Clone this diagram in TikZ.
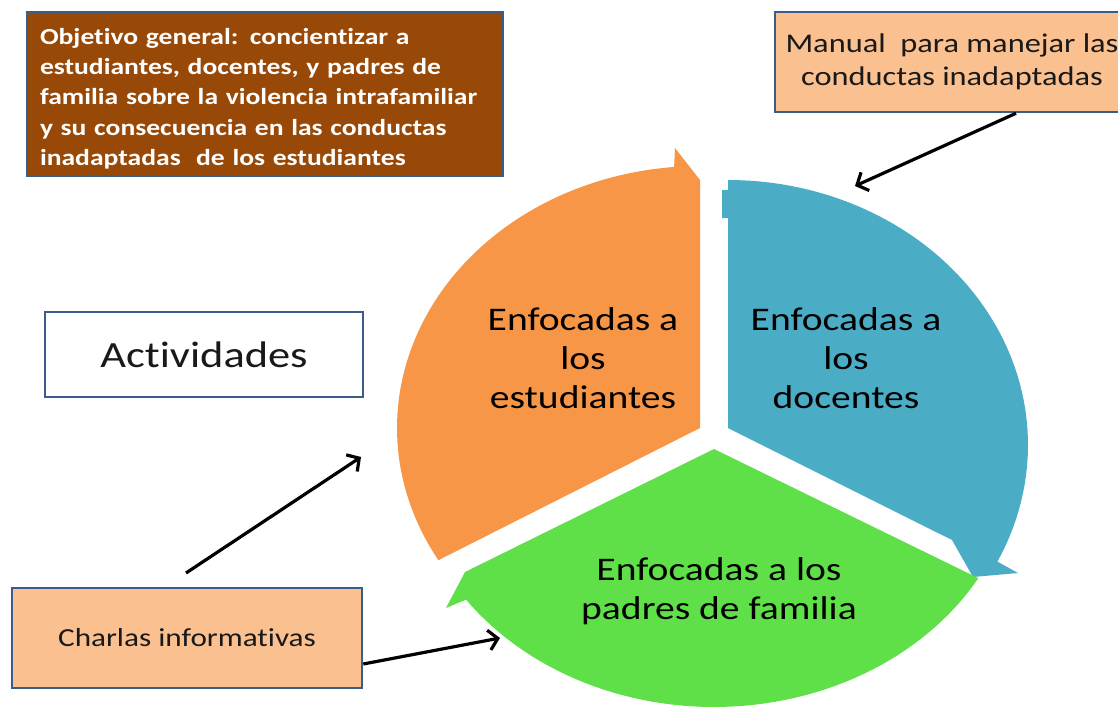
\documentclass[tikz,border=0pt]{standalone}
\usepackage{fontspec}
\setmainfont{Carlito}[FakeStretch=1.2, Ligatures={TeX,NoCommon}]
\usetikzlibrary{arrows.meta}
\definecolor{segorange}{HTML}{F79646}
\definecolor{segblue}{HTML}{4BACC6}
\definecolor{seggreen}{RGB}{95,224,72}
\definecolor{boxbrown}{HTML}{984807}
\definecolor{boxpeach}{HTML}{FAC090}
\definecolor{boxline}{HTML}{385D8A}
\definecolor{txtdark}{RGB}{25,25,25}
\begin{document}
\begin{tikzpicture}[x=1pt,y=-1pt,
  box/.style={draw=boxline, line width=2.5pt, inner sep=0pt, text=txtdark},
  segtext/.style={align=center, text=black, inner sep=0pt, font=\fontsize{33}{39}\selectfont},
  arr/.style={line width=3.2pt, -{Straight Barb[length=9pt,width=20pt]}},
]
\useasboundingbox (0,0) rectangle (1118,709);
\clip (0,0) rectangle (1118,709);
\fill[white] (0,0) rectangle (1118,709);

% segments of the cycle
\fill[segorange] plot[domain=149.7:265.1, samples=60, variable=\t] ({700+303*cos(\t)},{428+262*sin(\t)})
  -- (675,148) -- (700,180) -- (700,428) -- cycle;
\fill[segblue] (728,428) -- (728,218) -- (722,218) -- (722,190) -- (728,190)
  -- plot[domain=-90:26.1, samples=60, variable=\t] ({728+300*cos(\t)},{445+265*sin(\t)})
  -- (1018,573) -- (973,577) -- (952,540) -- cycle;
\fill[seggreen] (714,449) -- (978,578)
  -- plot[domain=29.9:144.4, samples=60, variable=\t] ({714+305*cos(\t)},{450+257*sin(\t)})
  -- (446,608) -- (465,572) -- cycle;

\node[segtext] (tE) at (583,358) {Enfocadas a\\los\\estudiantes};
\node[segtext] (tD) at (846,358) {Enfocadas a\\los\\docentes};
\node[segtext] (tP) at (719,591) {Enfocadas a los\\padres de familia};

% boxes
\node[box, fill=boxbrown, minimum width=476pt, minimum height=164pt, text width=466pt,
  align=left, text=white, font=\bfseries\fontsize{23}{30.2}\selectfont] (obj) at (265,94)
  {\rule{0pt}{25.5pt}\hspace*{8pt}Objetivo general: concientizar a\\\hspace*{8pt}estudiantes, docentes, y padres de\\\hspace*{8pt}familia sobre la violencia intrafamiliar\\\hspace*{8pt}y su consecuencia en las conductas\\\hspace*{8pt}inadaptadas~~de los estudiantes};
\node[box, fill=boxpeach, minimum width=354pt, minimum height=100pt, align=center,
  font=\fontsize{27}{33}\selectfont] (manual) at (952,62)
  {Manual~~para manejar las\\conductas inadaptadas};
\node[box, fill=white, minimum width=318pt, minimum height=85pt,
  font=\fontsize{37}{44}\selectfont] (act) at (204,354.5) {Actividades};
\node[box, fill=boxpeach, minimum width=350pt, minimum height=100pt,
  font=\fontsize{26}{31}\selectfont] (charlas) at (187,638) {Charlas informativas};

% connectors
\coordinate (m1) at (1016,115);
\coordinate (m2) at (855,186);
\coordinate (c1) at (186,573);
\coordinate (c2) at (361,457);
\coordinate (c3) at (500,638);
\draw[arr] (manual.south -| m1) -- (m2);
\draw[arr] (c1) -- (c2);
\draw[arr] (charlas.east |- 0,664) -- (c3);
\end{tikzpicture}
\end{document}
